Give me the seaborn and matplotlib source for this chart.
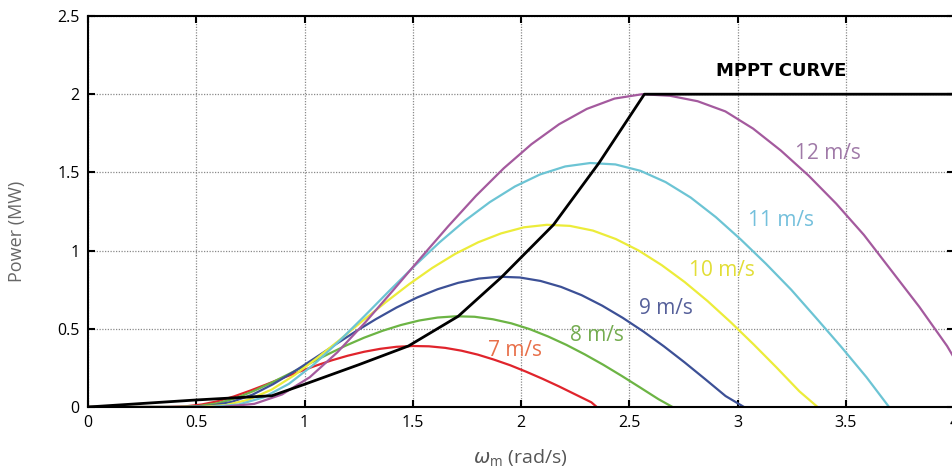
import numpy as np
import pandas as pd
import matplotlib
matplotlib.use("Agg")
import matplotlib.pyplot as plt
import seaborn as sns

# --- data ---
speeds = ['7 m/s', '8 m/s', '9 m/s', '10 m/s', '11 m/s', '12 m/s']

w_7 = [0, 0.36, 0.45, 0.525, 0.60, 0.675, 0.75, 0.825, 0.90, 0.975, 1.05, 1.125, 1.20, 1.275, 1.35,
       1.425, 1.50, 1.575, 1.65, 1.725, 1.80, 1.875, 1.95, 2.025, 2.10, 2.175, 2.25, 2.325, 2.35]
p_7 = [0, 0, 0.004, 0.016, 0.037, 0.068, 0.105, 0.145, 0.186, 0.225, 0.263, 0.298, 0.328, 0.353, 0.372,
       0.385, 0.39, 0.388, 0.378, 0.360, 0.335, 0.303, 0.267, 0.225, 0.180, 0.132, 0.081, 0.030, 0]

w_8 = [0, 0.408, 0.51, 0.595, 0.68, 0.765, 0.85, 0.935, 1.02, 1.105, 1.19, 1.275, 1.36, 1.445, 1.53,
       1.615, 1.70, 1.785, 1.87, 1.955, 2.04, 2.125, 2.21, 2.295, 2.38, 2.465, 2.55, 2.635, 2.70]
p_8 = [0, 0, 0.006, 0.023, 0.055, 0.102, 0.157, 0.216, 0.276, 0.335, 0.392, 0.443, 0.487, 0.524, 0.553,
       0.572, 0.58, 0.577, 0.561, 0.535, 0.498, 0.451, 0.397, 0.336, 0.270, 0.199, 0.125, 0.050, 0]

w_9 = [0, 0.456, 0.57, 0.665, 0.76, 0.855, 0.95, 1.045, 1.14, 1.235, 1.33, 1.425, 1.52, 1.615, 1.71,
       1.805, 1.90, 1.995, 2.09, 2.185, 2.28, 2.375, 2.47, 2.565, 2.66, 2.755, 2.85, 2.945, 3.03]
p_9 = [0, 0, 0.008, 0.033, 0.079, 0.146, 0.225, 0.310, 0.397, 0.482, 0.562, 0.636, 0.700, 0.753, 0.794,
       0.821, 0.833, 0.828, 0.806, 0.768, 0.715, 0.648, 0.570, 0.483, 0.388, 0.286, 0.179, 0.070, 0]

w_10 = [0, 0.509, 0.636, 0.742, 0.848, 0.954, 1.06, 1.166, 1.272, 1.378, 1.484, 1.59, 1.696, 1.802, 1.908,
        2.014, 2.12, 2.226, 2.332, 2.438, 2.544, 2.65, 2.756, 2.862, 2.968, 3.074, 3.18, 3.286, 3.37]
p_10 = [0, 0, 0.012, 0.047, 0.111, 0.204, 0.315, 0.433, 0.555, 0.673, 0.786, 0.889, 0.979, 1.053, 1.110,
        1.149, 1.165, 1.158, 1.128, 1.074, 1.000, 0.907, 0.799, 0.677, 0.543, 0.401, 0.253, 0.100, 0]

w_11 = [0, 0.557, 0.696, 0.812, 0.928, 1.044, 1.16, 1.276, 1.392, 1.508, 1.624, 1.74, 1.856, 1.972, 2.088,
        2.204, 2.32, 2.436, 2.552, 2.668, 2.784, 2.90, 3.016, 3.132, 3.248, 3.364, 3.48, 3.596, 3.70]
p_11 = [0, 0, 0.016, 0.062, 0.148, 0.273, 0.421, 0.580, 0.743, 0.902, 1.053, 1.190, 1.310, 1.410, 1.487,
        1.538, 1.56, 1.551, 1.510, 1.438, 1.339, 1.214, 1.070, 0.915, 0.750, 0.568, 0.383, 0.190, 0]

w_12 = [0, 0.614, 0.768, 0.896, 1.024, 1.152, 1.28, 1.408, 1.536, 1.664, 1.792, 1.92, 2.048, 2.176, 2.304,
        2.432, 2.56, 2.688, 2.816, 2.944, 3.072, 3.20, 3.328, 3.456, 3.584, 3.712, 3.84, 3.968, 4.096, 4.13]
p_12 = [0, 0, 0.02, 0.08, 0.19, 0.35, 0.54, 0.744, 0.952, 1.156, 1.35, 1.526, 1.68, 1.808, 1.906,
        1.972, 2.0, 1.99, 1.955, 1.89, 1.78, 1.64, 1.48, 1.30, 1.10, 0.87, 0.64, 0.39, 0.09, 0]

w_mppt = [0, 0.5, 0.85, 1.0, 1.25, 1.48, 1.71, 1.91, 2.15, 2.36, 2.57, 4.0]
p_mppt = [0, 0.045, 0.072, 0.145, 0.27, 0.39, 0.58, 0.83, 1.165, 1.56, 2.0, 2.0]

# label anchor points (centre of each text)
label_w = [1.97, 2.35, 2.67, 2.93, 3.20, 3.42]
label_p = [0.364, 0.46, 0.63, 0.875, 1.19, 1.62]

x_ticks = [0, 0.5, 1, 1.5, 2, 2.5, 3, 3.5, 4]
x_tick_labels = ['0', '0.5', '1', '1.5', '2', '2.5', '3', '3.5', '4']
y_ticks = [0, 0.5, 1, 1.5, 2, 2.5]
y_tick_labels = ['0', '0.5', '1', '1.5', '2', '2.5']

line_colors = ['#e0242c', '#6cb444', '#3c5096', '#ecec3a', '#6cc4d4', '#a45a9e']
text_colors = ['#e8704a', '#74ac50', '#56609a', '#e2de36', '#74c0dc', '#a07aa8']

# --- long table for seaborn ---
ws = [w_7, w_8, w_9, w_10, w_11, w_12]
ps = [p_7, p_8, p_9, p_10, p_11, p_12]
frames = []
for name, w, p in zip(speeds, ws, ps):
    frames.append(pd.DataFrame({'w': w, 'P': p, 'speed': name}))
df = pd.concat(frames, ignore_index=True)
df_mppt = pd.DataFrame({'w': w_mppt, 'P': p_mppt})

sns.set_style('ticks')
plt.rcParams['font.family'] = ['Open Sans', 'DejaVu Sans']

fig = plt.figure(figsize=(9.52, 4.72), dpi=100)
ax = fig.add_axes([88 / 952, 65 / 472, 866 / 952, 391 / 472])

sns.lineplot(data=df, x='w', y='P', hue='speed', hue_order=speeds,
             palette=line_colors, sort=False, estimator=None,
             linewidth=1.6, legend=False, ax=ax)
sns.lineplot(data=df_mppt, x='w', y='P', color='black', sort=False,
             estimator=None, linewidth=2.0, ax=ax)

for name, lw, lp, c in zip(speeds, label_w, label_p, text_colors):
    ax.text(lw, lp, name, color=c, fontsize=15, ha='center', va='center')
ax.text(3.20, 2.15, 'MPPT CURVE', color='black', fontsize=13, fontweight='bold',
        family='DejaVu Sans', ha='center', va='center')

ax.set_xlim(0, 4)
ax.set_ylim(0, 2.5)
ax.set_xticks(x_ticks)
ax.set_xticklabels(x_tick_labels)
ax.set_yticks(y_ticks)
ax.set_yticklabels(y_tick_labels)
ax.grid(True, linestyle=(0, (1, 1.2)), color='#8a8a8a', linewidth=0.9)
ax.tick_params(direction='in', length=5, width=1.5, top=True, right=True,
               labelsize=11.5, colors='black', pad=6)
for s in ax.spines.values():
    s.set_linewidth(1.5)
    s.set_color('black')

ax.set_xlabel(r'$\omega_\mathregular{m}$ (rad/s)', fontsize=14, color='#555555')
ax.set_ylabel('Power (MW)', fontsize=13, color='#666666')
ax.xaxis.set_label_coords(0.499, -0.105)
ax.yaxis.set_label_coords(-0.072, 0.45)

fig.savefig('out.png', dpi=100)
